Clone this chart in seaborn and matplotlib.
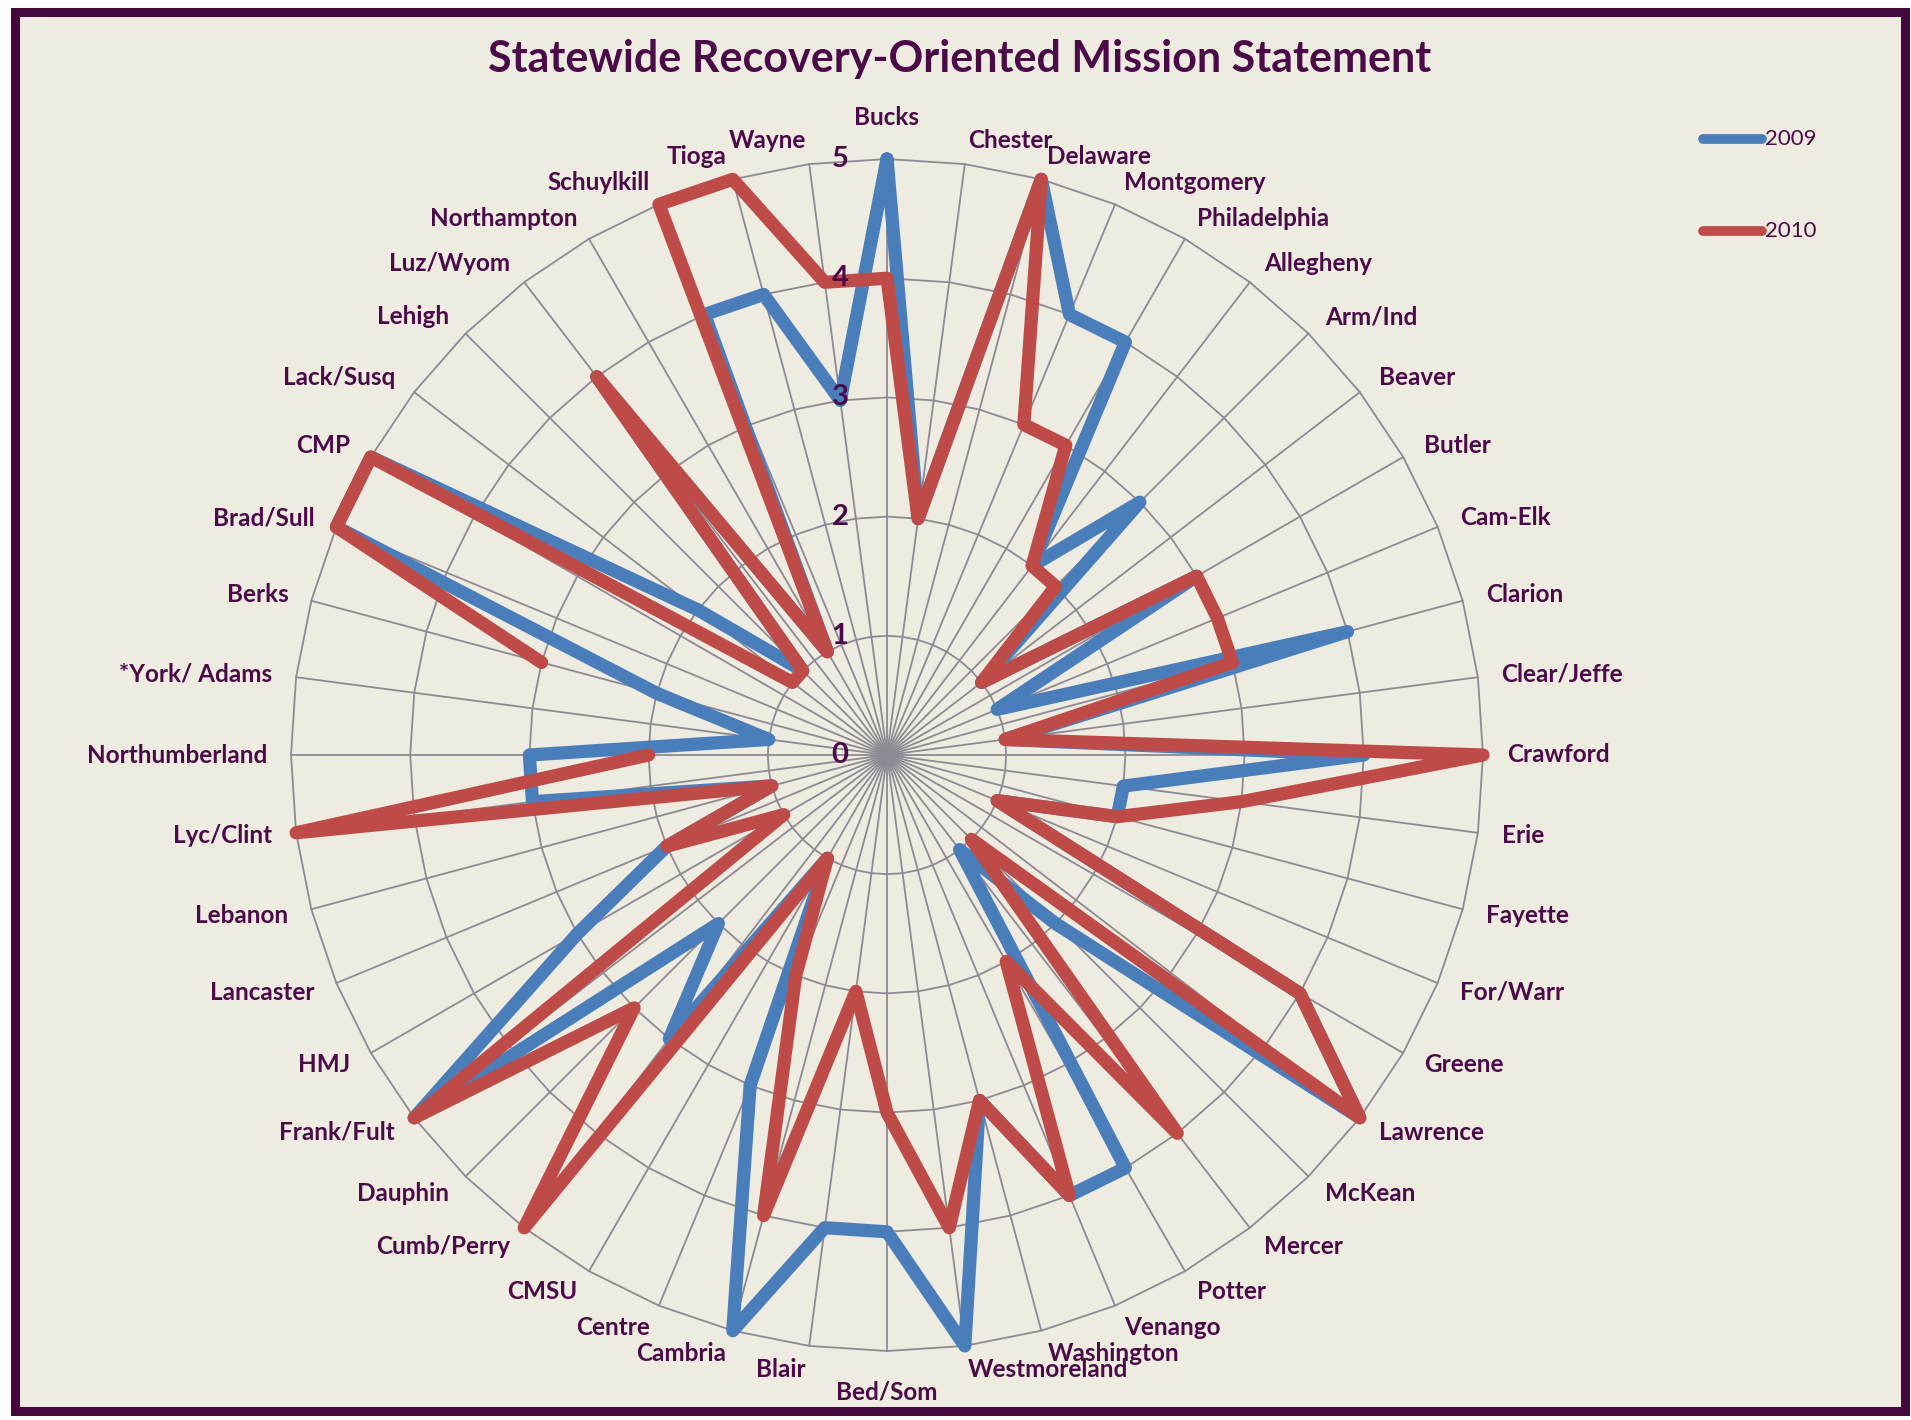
import numpy as np
import pandas as pd
import seaborn as sns
import matplotlib.pyplot as plt
from matplotlib.lines import Line2D
from matplotlib.patches import Rectangle
from matplotlib.transforms import offset_copy

# DATA (clockwise from the top)
CATEGORIES = ["Bucks", "Chester", "Delaware", "Montgomery", "Philadelphia", "Allegheny",
              "Arm/Ind", "Beaver", "Butler", "Cam-Elk", "Clarion", "Clear/Jeffe",
              "Crawford", "Erie", "Fayette", "For/Warr", "Greene", "Lawrence",
              "McKean", "Mercer", "Potter", "Venango", "Washington", "Westmoreland",
              "Bed/Som", "Blair", "Cambria", "Centre", "CMSU", "Cumb/Perry",
              "Dauphin", "Frank/Fult", "HMJ", "Lancaster", "Lebanon", "Lyc/Clint",
              "Northumberland", "*York/ Adams", "Berks", "Brad/Sull", "CMP", "Lack/Susq",
              "Lehigh", "Luz/Wyom", "Northampton", "Schuylkill", "Tioga", "Wayne"]

V2009 = [5, 2, 5, 4, 4, 2, 3, 1, 3, 1, 4, 1,
         4, 2, 2, 1, 4, 5, 2, 1, 4, 4, 3, 5,
         4, 4, 5, 3, 1, 3, 2, 5, 3, 2, 1, 3,
         3, 1, 2, 5, 5, 2, 1, 4, 1, 4, 4, 3]

V2010 = [4, 2, 5, 3, 3, 2, 2, 1, 3, 3, 3, 1,
         5, 3, 2, 1, 4, 5, 1, 4, 2, 4, 3, 4,
         3, 2, 4, 2, 1, 5, 3, 5, 1, 2, 1, 5,
         2, np.nan, 3, 5, 5, 1, 1, 4, 1, 5, 5, 4]

YEARS = ["2009", "2010"]
RTICKS = [0, 1, 2, 3, 4, 5]
TITLE = "Statewide Recovery-Oriented Mission Statement"

BG = "#EEEBE0"
FRAME = "#44063F"
TXT = "#4B0A48"
GRID = "#8E8993"
PAL = {"2009": "#4A7EBB", "2010": "#BE4B48"}

W, H = 1911, 1420
N = len(CATEGORIES)
RMAX = 5


def series_rows(vals, year):
    # one unit per unbroken run, loop closed back to the start
    nan_idx = [i for i in range(N) if np.isnan(vals[i])]
    start = nan_idx[0] + 1 if nan_idx else 0
    stop = start + N + (0 if nan_idx else 1)
    rows, seg = [], 0
    for k in range(start, stop):
        i = k % N
        if np.isnan(vals[i]):
            seg += 1
            continue
        rows.append({"theta": 2 * np.pi * k / N, "value": vals[i],
                     "year": year, "seg": f"{year}-{seg}"})
    return rows


df = pd.DataFrame(series_rows(np.array(V2009, float), "2009") +
                  series_rows(np.array(V2010, float), "2010"))

sns.set_theme(style="white")
plt.rcParams['font.family'] = ['Lato', 'DejaVu Sans']

fig = plt.figure(figsize=(W / 100, H / 100), dpi=100)
fig.patch.set_facecolor("white")
fig.add_artist(Rectangle((15 / W, 9 / H), (1905 - 15) / W, (H - 12 - 9) / H,
                         transform=fig.transFigure, facecolor=BG, edgecolor=FRAME,
                         linewidth=6.5, zorder=0))

# polar axes, centre at (887,755) px, radius 596 px
cx, cy, R = 887, 755, 596
ax = fig.add_axes([(cx - R) / W, (H - cy - R) / H, 2 * R / W, 2 * R / H], projection="polar")
ax.set_theta_zero_location("N")
ax.set_theta_direction(-1)
ax.set_ylim(0, RMAX)
ax.set_facecolor("none")
ax.grid(False)
ax.set_xticks([])
ax.set_yticks([])
ax.spines["polar"].set_visible(False)

thetas = 2 * np.pi * np.arange(N) / N

# grid: straight polygon rings + spokes
ring_t = np.append(thetas, 2 * np.pi)
for v in RTICKS[1:]:
    ax.plot(ring_t, [v] * len(ring_t), color=GRID, lw=1.3, zorder=1, clip_on=False)
for t in thetas:
    ax.plot([t, t], [0, RMAX], color=GRID, lw=1.3, zorder=1, clip_on=False)

# series
sns.lineplot(data=df, x="theta", y="value", hue="year", units="seg", estimator=None,
             sort=False, palette=PAL, hue_order=YEARS, linewidth=9.5, legend=False,
             ax=ax, solid_joinstyle="round", solid_capstyle="round", clip_on=False, zorder=3)
ax.set_xlabel("")
ax.set_ylabel("")
ax.set_ylim(0, RMAX)

# category labels
for t, name in zip(thetas, CATEGORIES):
    s = np.sin(t)
    if abs(s) < 0.01:
        ha = "center"
        va = "bottom" if np.cos(t) > 0 else "top"
        r = RMAX + 0.25
    else:
        ha = "left" if s > 0 else "right"
        va = "center"
        r = RMAX + 0.2
    ax.text(t, r, name, ha=ha, va=va, fontsize=17.5, fontweight="bold", color=TXT)

# radial tick labels left of the vertical axis
trans = offset_copy(ax.transData, fig=fig, x=-47, y=0, units="dots")
for v in RTICKS:
    ax.text(0, v, str(v), transform=trans, ha="center", va="center",
            fontsize=21, fontweight="bold", color=TXT, zorder=4)

# title
fig.text(960 / W, 1 - 59 / H, TITLE, ha="center", va="center",
         fontsize=31, fontweight="bold", color=TXT)

# legend
for yr, ypx in zip(YEARS, [139, 231]):
    fig.add_artist(Line2D([1703 / W, 1762 / W], [1 - ypx / H, 1 - ypx / H],
                          transform=fig.transFigure, color=PAL[yr], lw=7,
                          solid_capstyle="round"))
    fig.text(1765 / W, 1 - ypx / H, yr, ha="left", va="center", fontsize=16, color=TXT)

fig.savefig("out.png", dpi=100, facecolor=fig.get_facecolor())
